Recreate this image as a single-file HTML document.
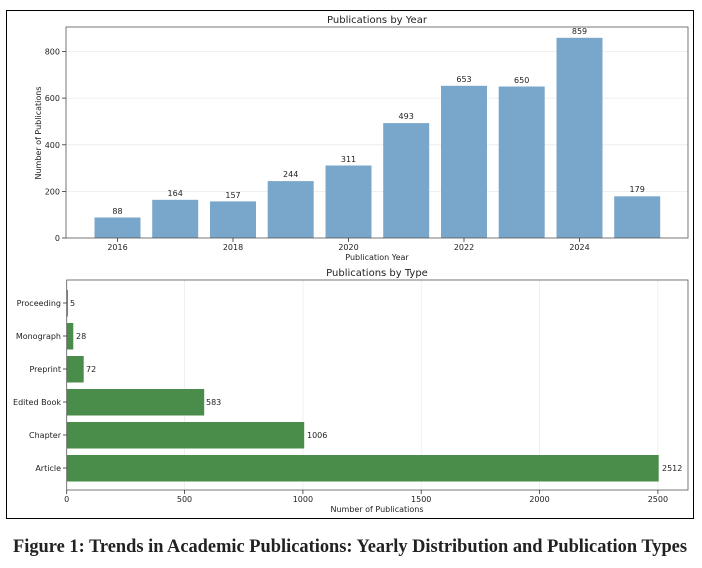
<!DOCTYPE html>
<html><head><meta charset="utf-8"><style>
html,body{margin:0;padding:0;background:#fff;width:702px;height:568px;overflow:hidden}
svg{display:block}
text{font-family:"DejaVu Sans","Liberation Sans",sans-serif;fill:#222}
</style></head><body>
<svg width="702" height="568" viewBox="0 0 702 568" xmlns="http://www.w3.org/2000/svg">
<rect x="6.5" y="10.5" width="687" height="508" fill="#fff" stroke="#000" stroke-width="1"/>
<text x="377" y="23" font-size="10" text-anchor="middle">Publications by Year</text>
<g stroke="#ebebeb" stroke-width="0.8">
<line x1="66" x2="688" y1="191.4" y2="191.4"/><line x1="66" x2="688" y1="144.8" y2="144.8"/>
<line x1="66" x2="688" y1="98.1" y2="98.1"/><line x1="66" x2="688" y1="51.5" y2="51.5"/>
</g>
<g fill="#79a7cb">
<rect x="94.5" y="217.5" width="46" height="20.5"/>
<rect x="152.2" y="199.8" width="46" height="38.2"/>
<rect x="210" y="201.4" width="46" height="36.6"/>
<rect x="267.7" y="181.1" width="46" height="56.9"/>
<rect x="325.5" y="165.5" width="46" height="72.5"/>
<rect x="383.2" y="123.1" width="46" height="114.9"/>
<rect x="441" y="85.8" width="46" height="152.2"/>
<rect x="498.7" y="86.5" width="46" height="151.5"/>
<rect x="556.5" y="37.8" width="46" height="200.2"/>
<rect x="614.2" y="196.3" width="46" height="41.7"/>
</g>
<g font-size="8" text-anchor="middle">
<text x="117.5" y="214">88</text><text x="175.2" y="196">164</text><text x="233" y="198">157</text>
<text x="290.7" y="177">244</text><text x="348.5" y="162">311</text><text x="406.2" y="119">493</text>
<text x="464" y="82">653</text><text x="521.7" y="83">650</text><text x="579.5" y="34">859</text>
<text x="637.2" y="192">179</text>
</g>
<rect x="66" y="27" width="622" height="211" fill="none" stroke="#555" stroke-width="0.8"/>
<g stroke="#333" stroke-width="0.8">
<line x1="62" x2="66" y1="238" y2="238"/><line x1="62" x2="66" y1="191.4" y2="191.4"/>
<line x1="62" x2="66" y1="144.8" y2="144.8"/><line x1="62" x2="66" y1="98.1" y2="98.1"/>
<line x1="62" x2="66" y1="51.5" y2="51.5"/>
<line x1="117.5" x2="117.5" y1="238" y2="242"/><line x1="233" x2="233" y1="238" y2="242"/>
<line x1="348.5" x2="348.5" y1="238" y2="242"/><line x1="464" x2="464" y1="238" y2="242"/>
<line x1="579.5" x2="579.5" y1="238" y2="242"/>
</g>
<g font-size="8" text-anchor="end">
<text x="60" y="241">0</text><text x="60" y="194.4">200</text><text x="60" y="147.8">400</text>
<text x="60" y="101.1">600</text><text x="60" y="54.5">800</text>
</g>
<g font-size="8" text-anchor="middle">
<text x="117.5" y="250">2016</text><text x="233" y="250">2018</text><text x="348.5" y="250">2020</text>
<text x="464" y="250">2022</text><text x="579.5" y="250">2024</text>
</g>
<text x="377" y="260" font-size="8" text-anchor="middle">Publication Year</text>
<text transform="translate(41,133) rotate(-90)" font-size="8" text-anchor="middle">Number of Publications</text>
<text x="377" y="276" font-size="10" text-anchor="middle">Publications by Type</text>
<g stroke="#ebebeb" stroke-width="0.8">
<line x1="184.5" x2="184.5" y1="280" y2="490"/><line x1="302.9" x2="302.9" y1="280" y2="490"/>
<line x1="421.2" x2="421.2" y1="280" y2="490"/><line x1="539.5" x2="539.5" y1="280" y2="490"/>
<line x1="657.9" x2="657.9" y1="280" y2="490"/>
</g>
<g fill="#4a8c4a">
<rect x="66.7" y="455" width="592" height="26.5"/>
<rect x="66.7" y="422" width="237.5" height="26.5"/>
<rect x="66.7" y="389" width="137.5" height="26.5"/>
<rect x="66.7" y="356" width="17" height="26.5"/>
<rect x="66.7" y="323" width="6.6" height="26.5"/>
<rect x="66.7" y="290" width="1.2" height="26.5"/>
</g>
<g font-size="8">
<text x="662" y="471">2512</text><text x="307" y="438">1006</text><text x="206" y="405">583</text>
<text x="86" y="372">72</text><text x="76" y="339">28</text><text x="70" y="306">5</text>
</g>
<rect x="66.7" y="280" width="621.3" height="210" fill="none" stroke="#555" stroke-width="0.8"/>
<g stroke="#333" stroke-width="0.8">
<line x1="66.7" x2="66.7" y1="490" y2="494"/><line x1="184.5" x2="184.5" y1="490" y2="494"/>
<line x1="302.9" x2="302.9" y1="490" y2="494"/><line x1="421.2" x2="421.2" y1="490" y2="494"/>
<line x1="539.5" x2="539.5" y1="490" y2="494"/><line x1="657.9" x2="657.9" y1="490" y2="494"/>
<line x1="63" x2="66.7" y1="468" y2="468"/><line x1="63" x2="66.7" y1="435" y2="435"/>
<line x1="63" x2="66.7" y1="402" y2="402"/><line x1="63" x2="66.7" y1="369" y2="369"/>
<line x1="63" x2="66.7" y1="336" y2="336"/><line x1="63" x2="66.7" y1="303" y2="303"/>
</g>
<g font-size="8" text-anchor="end">
<text x="61" y="471">Article</text><text x="61" y="438">Chapter</text><text x="61" y="405">Edited Book</text>
<text x="61" y="372">Preprint</text><text x="61" y="339">Monograph</text><text x="61" y="306">Proceeding</text>
</g>
<g font-size="8" text-anchor="middle">
<text x="66.7" y="502">0</text><text x="184.5" y="502">500</text><text x="302.9" y="502">1000</text>
<text x="421.2" y="502">1500</text><text x="539.5" y="502">2000</text><text x="657.9" y="502">2500</text>
</g>
<text x="377" y="512" font-size="8" text-anchor="middle">Number of Publications</text>
<text x="350" y="552" font-size="18.5" font-weight="bold" text-anchor="middle" textLength="674" lengthAdjust="spacingAndGlyphs" style="font-family:'Liberation Serif',serif" fill="#000">Figure 1: Trends in Academic Publications: Yearly Distribution and Publication Types</text>
</svg>
</body></html>
